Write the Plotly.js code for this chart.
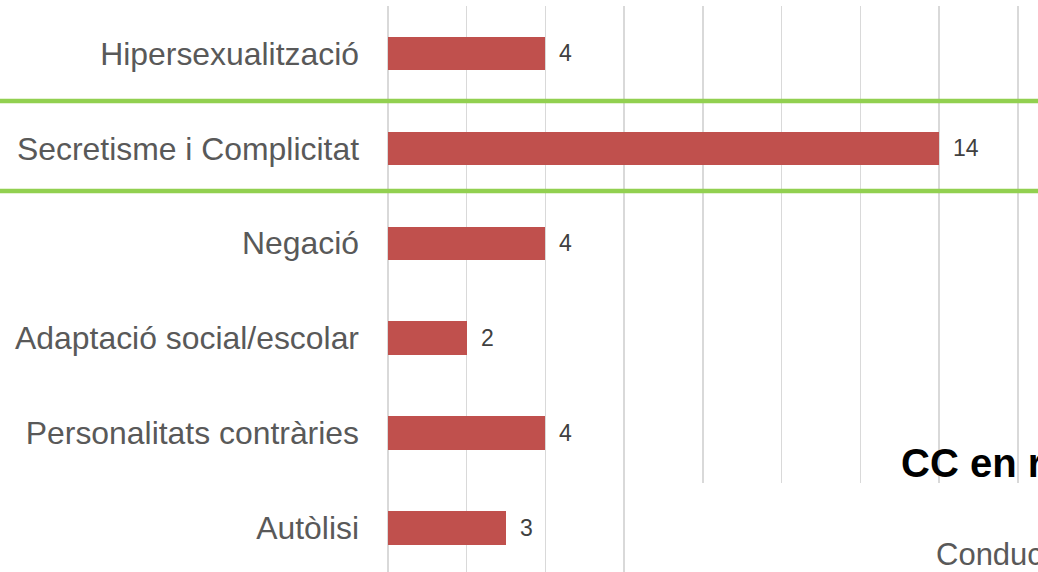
<!DOCTYPE html>
<html>
<head>
<meta charset="utf-8">
<script src="https://cdn.plot.ly/plotly-3.0.1.min.js"></script>
<style>html,body{margin:0;padding:0;background:#fff;overflow:hidden}#chart{width:1038px;height:572px}</style>
</head>
<body>
<div id="chart"></div>
<script>
const categories = ["Hipersexualització", "Secretisme i Complicitat", "Negació", "Adaptació social/escolar", "Personalitats contràries", "Autòlisi"];
const values = [4, 14, 4, 2, 4, 3];
const overlayTitle = "CC en r";
const overlaySubtitle = "Conduc";

const W = 1038, H = 572, L = 388, T = 6;
const pw = W - L, ph = H - T;
const unitPx = 39.36;
const bandPx = 94.9;
const py = p => (H - p) / ph;          // pixel y -> paper y
const px = p => (p - L) / pw;          // pixel x -> paper x

const trace = {
  type: 'bar',
  orientation: 'h',
  y: categories,
  x: values,
  marker: {color: '#C0504D', line: {width: 0}},
  width: 0.353,
  hoverinfo: 'skip'
};

const annotations = values.map((v, i) => ({
  x: v, y: categories[i], xref: 'x', yref: 'y',
  text: String(v), showarrow: false, xanchor: 'left', yanchor: 'middle',
  xshift: 12,
  font: {family: 'Liberation Sans, Arial, sans-serif', size: 23, color: '#404040'}
}));

annotations.push({
  x: px(899), y: py(463), xref: 'paper', yref: 'paper',
  text: overlayTitle, showarrow: false, xanchor: 'left', yanchor: 'middle',
  font: {family: 'Liberation Sans, Arial, sans-serif', size: 40, color: '#000000', weight: 'bold'}
});
annotations.push({
  x: px(934), y: py(554), xref: 'paper', yref: 'paper',
  text: overlaySubtitle, showarrow: false, xanchor: 'left', yanchor: 'middle',
  font: {family: 'Liberation Sans, Arial, sans-serif', size: 31, color: '#595959'}
});

const layout = {
  width: W, height: H,
  margin: {l: L, r: 0, t: T, b: 0, pad: 0},
  paper_bgcolor: '#ffffff',
  plot_bgcolor: '#ffffff',
  showlegend: false,
  bargap: 0,
  xaxis: {
    range: [0, pw / unitPx],
    dtick: 2, tick0: 0,
    showticklabels: false,
    showgrid: true, gridcolor: '#D9D9D9', gridwidth: 1.5,
    zeroline: true, zerolinecolor: '#D9D9D9', zerolinewidth: 1.5,
    showline: false, ticks: '', fixedrange: true
  },
  yaxis: {
    type: 'category',
    range: [ph / bandPx - 0.5, -0.5],
    showgrid: false, zeroline: false, showline: false,
    ticks: '', ticklabelstandoff: 28,
    tickfont: {family: 'Liberation Sans, Arial, sans-serif', size: 31.9, color: '#595959'},
    fixedrange: true
  },
  shapes: [
    {type: 'rect', xref: 'paper', yref: 'paper', x0: px(650), x1: 1.01, y0: -0.01, y1: py(483),
     fillcolor: '#ffffff', line: {width: 0}, layer: 'above'},
    {type: 'line', xref: 'paper', yref: 'paper', x0: -L / pw, x1: 1.01, y0: py(101), y1: py(101),
     line: {color: '#92D050', width: 4.5}, layer: 'above'},
    {type: 'line', xref: 'paper', yref: 'paper', x0: -L / pw, x1: 1.01, y0: py(191), y1: py(191),
     line: {color: '#92D050', width: 4.5}, layer: 'above'}
  ],
  annotations: annotations
};

Plotly.newPlot('chart', [trace], layout, {displayModeBar: false, staticPlot: true});
</script>
</body>
</html>
